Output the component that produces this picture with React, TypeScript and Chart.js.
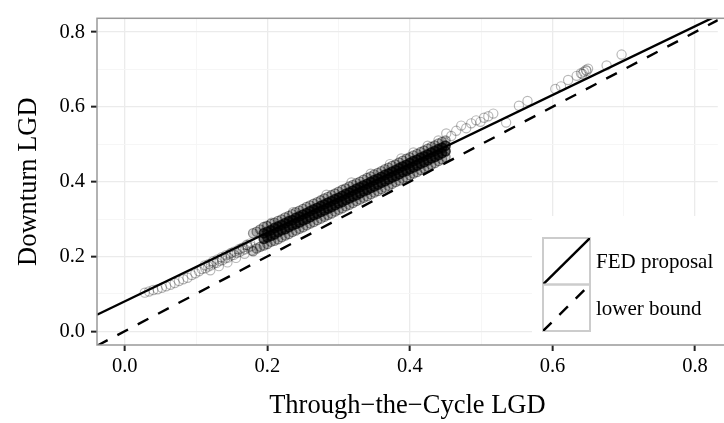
import React, { useEffect, useRef } from "react";
import { Chart, registerables } from "chart.js";

Chart.register(...registerables);

// ---- axis ranges and ticks ----
const X_MIN = -0.039;
const X_MAX = 0.832;
const Y_MIN = -0.037;
const Y_MAX = 0.837;
const xTickValues = [0, 0.1, 0.2, 0.3, 0.4, 0.5, 0.6, 0.7, 0.8];
const yTickValues = [0, 0.1, 0.2, 0.3, 0.4, 0.5, 0.6, 0.7, 0.8];

// ---- reference lines ----
const fedX = [-0.039, 0.832];
const fedY = [0.044, 0.845];
const lowerX = [-0.039, 0.832];
const lowerY = [-0.039, 0.832];

// ---- dense band of observations ----
const bandX = [
  0.18, 0.185, 0.19, 0.195, 0.2, 0.205, 0.21, 0.215, 0.22, 0.225, 0.23, 0.235, 0.24, 0.245,
  0.25, 0.255, 0.26, 0.265, 0.27, 0.275, 0.28, 0.285, 0.29, 0.295, 0.3, 0.305, 0.31, 0.315,
  0.32, 0.325, 0.33, 0.335, 0.34, 0.345, 0.35, 0.355, 0.36, 0.365, 0.37, 0.375, 0.38, 0.385,
  0.39, 0.395, 0.4, 0.405, 0.41, 0.415, 0.42, 0.425, 0.43, 0.435, 0.44, 0.445, 0.45,
];
const bandLow = [
  0.214, 0.221, 0.226, 0.229, 0.233, 0.239, 0.242, 0.246, 0.251, 0.256, 0.26, 0.265, 0.269, 0.274,
  0.278, 0.283, 0.288, 0.292, 0.297, 0.301, 0.306, 0.311, 0.315, 0.32, 0.325, 0.329, 0.334, 0.338,
  0.343, 0.348, 0.352, 0.357, 0.361, 0.366, 0.371, 0.375, 0.38, 0.384, 0.389, 0.394, 0.399, 0.403,
  0.408, 0.412, 0.417, 0.422, 0.426, 0.431, 0.436, 0.44, 0.445, 0.45, 0.455, 0.46, 0.466,
];
const bandMidLow = [
  0.232, 0.238, 0.241, 0.247, 0.251, 0.255, 0.259, 0.265, 0.27, 0.273, 0.278, 0.283, 0.287, 0.291,
  0.296, 0.3, 0.305, 0.31, 0.314, 0.319, 0.323, 0.328, 0.332, 0.337, 0.342, 0.346, 0.351, 0.355,
  0.36, 0.364, 0.369, 0.374, 0.378, 0.383, 0.387, 0.392, 0.397, 0.401, 0.406, 0.411, 0.415, 0.42,
  0.425, 0.429, 0.434, 0.438, 0.443, 0.448, 0.452, 0.457, 0.462, 0.466, 0.471, 0.476, 0.481,
];
const bandMidHigh = [
  0.248, 0.253, 0.259, 0.262, 0.266, 0.27, 0.276, 0.28, 0.284, 0.289, 0.294, 0.297, 0.303, 0.307,
  0.312, 0.316, 0.321, 0.326, 0.33, 0.335, 0.339, 0.344, 0.348, 0.353, 0.357, 0.362, 0.367, 0.371,
  0.376, 0.381, 0.385, 0.39, 0.394, 0.399, 0.404, 0.408, 0.413, 0.418, 0.422, 0.427, 0.431, 0.436,
  0.441, 0.445, 0.45, 0.455, 0.459, 0.464, 0.468, 0.473, 0.478, 0.482, 0.487, 0.491, 0.496,
];
const bandHigh = [
  0.262, 0.266, 0.272, 0.279, 0.281, 0.287, 0.29, 0.295, 0.299, 0.304, 0.308, 0.313, 0.318, 0.322,
  0.327, 0.332, 0.336, 0.341, 0.345, 0.35, 0.355, 0.359, 0.364, 0.368, 0.373, 0.378, 0.382, 0.387,
  0.391, 0.396, 0.4, 0.405, 0.41, 0.414, 0.419, 0.423, 0.428, 0.433, 0.437, 0.442, 0.446, 0.451,
  0.456, 0.461, 0.465, 0.47, 0.474, 0.479, 0.483, 0.488, 0.493, 0.497, 0.502, 0.506, 0.51,
];
// the darkest core of the band begins a little after the band itself
const CORE_START = 3;

// ---- sparse observations (tails and outliers) ----
const sparseX = [
  0.028, 0.034, 0.04, 0.046, 0.052, 0.058, 0.064, 0.07, 0.076, 0.082, 0.088, 0.094, 0.099, 0.104,
  0.108, 0.113, 0.117, 0.121, 0.125, 0.129, 0.133, 0.137, 0.141, 0.145, 0.149, 0.153, 0.157, 0.161,
  0.165, 0.169, 0.173, 0.177,
  0.112, 0.118, 0.124, 0.13, 0.136, 0.142, 0.148, 0.154, 0.16, 0.166, 0.172, 0.176,
  0.12, 0.132, 0.144, 0.156, 0.168, 0.178, 0.15, 0.163, 0.171,
  0.199, 0.206, 0.236, 0.283, 0.318, 0.345, 0.372, 0.388, 0.405, 0.425, 0.44,
  0.451, 0.458, 0.465, 0.472, 0.479, 0.486, 0.493, 0.499, 0.504, 0.51, 0.517, 0.535, 0.553, 0.565,
  0.604, 0.612, 0.622, 0.634, 0.64, 0.644, 0.647, 0.65, 0.642, 0.648, 0.676, 0.697,
];
const sparseY = [
  0.103, 0.106, 0.11, 0.112, 0.116, 0.12, 0.124, 0.129, 0.134, 0.139, 0.143, 0.15, 0.155, 0.16,
  0.166, 0.168, 0.173, 0.176, 0.181, 0.183, 0.188, 0.19, 0.195, 0.197, 0.202, 0.204, 0.209, 0.212,
  0.216, 0.219, 0.224, 0.227,
  0.176, 0.18, 0.187, 0.192, 0.198, 0.203, 0.208, 0.213, 0.219, 0.224, 0.23, 0.235,
  0.163, 0.174, 0.184, 0.196, 0.207, 0.216, 0.21, 0.221, 0.231,
  0.282, 0.29, 0.318, 0.365, 0.398, 0.421, 0.447, 0.462, 0.478, 0.496, 0.51,
  0.529, 0.522, 0.536, 0.55, 0.543, 0.556, 0.564, 0.56, 0.571, 0.575, 0.582, 0.558, 0.603, 0.616,
  0.648, 0.655, 0.672, 0.683, 0.69, 0.694, 0.699, 0.702, 0.688, 0.696, 0.711, 0.74,
];

const FONT = "'Liberation Serif', 'Times New Roman', serif";

const isMajor = (v: number) => Math.round(v * 10) % 2 === 0;

const pairs = (xs: number[], ys: number[], from = 0) =>
  xs.map((x, i) => ({ x, y: ys[i] })).slice(from);

const insideLegend = {
  id: "insideLegend",
  afterDatasetsDraw(chart: any) {
    const { ctx, chartArea } = chart;
    ctx.save();
    ctx.fillStyle = "#ffffff";
    ctx.fillRect(532, 216, chartArea.right - 532 + 2, chartArea.bottom - 216);
    const lineSets = chart.data.datasets.filter((d: any) => d.isRefLine);
    const bx = 543;
    const bw = 47;
    const bh = 46.5;
    lineSets.forEach((ds: any, i: number) => {
      const by = 238 + i * bh;
      ctx.strokeStyle = "#cccccc";
      ctx.lineWidth = 2;
      ctx.setLineDash([]);
      ctx.strokeRect(bx, by, bw, bh);
      ctx.save();
      ctx.beginPath();
      ctx.rect(bx, by, bw, bh);
      ctx.clip();
      ctx.strokeStyle = ds.borderColor;
      ctx.lineWidth = ds.borderWidth;
      ctx.setLineDash(ds.borderDash || []);
      ctx.beginPath();
      ctx.moveTo(bx, by + bh);
      ctx.lineTo(bx + bw, by);
      ctx.stroke();
      ctx.restore();
      ctx.fillStyle = "#000000";
      ctx.font = `21px ${FONT}`;
      ctx.textBaseline = "middle";
      ctx.textAlign = "left";
      ctx.fillText(ds.label, 596, by + bh / 2 + 1.5);
    });
    ctx.restore();
  },
};

const panelBorder = {
  id: "panelBorder",
  afterDraw(chart: any) {
    const { ctx, chartArea } = chart;
    ctx.save();
    ctx.strokeStyle = "#999999";
    ctx.lineWidth = 1.5;
    ctx.setLineDash([]);
    ctx.strokeRect(chartArea.left, chartArea.top, chartArea.right - chartArea.left + 10, chartArea.bottom - chartArea.top);
    ctx.restore();
  },
};

function makeScale(axis: "x" | "y", min: number, max: number, values: number[], title: string) {
  return {
    type: "linear" as const,
    min,
    max,
    afterBuildTicks: (scale: any) => {
      scale.ticks = values.map((v) => ({ value: v }));
    },
    afterFit: (scale: any) => {
      if (axis === "y") scale.width = 97;
      else scale.height = 78;
    },
    ticks: {
      autoSkip: false,
      maxRotation: 0,
      minRotation: 0,
      padding: axis === "y" ? 6 : 3,
      color: "#000000",
      font: { family: FONT, size: 20.5 },
      callback: (v: any) => (isMajor(Number(v)) ? Number(v).toFixed(1) : ""),
    },
    grid: {
      color: (c: any) => (c.tick && isMajor(c.tick.value) ? "#ebebeb" : "#f5f5f5"),
      lineWidth: (c: any) => (c.tick && isMajor(c.tick.value) ? 1.3 : 0.9),
      tickColor: (c: any) => (c.tick && isMajor(c.tick.value) ? "#222222" : "rgba(0,0,0,0)"),
      tickLength: 6,
      tickWidth: 2,
    },
    border: { display: false },
    title: {
      display: true,
      text: title,
      color: "#000000",
      font: { family: FONT, size: 26.5 },
      padding: axis === "y" ? { top: 13, bottom: 0 } : { top: 0, bottom: 1 },
    },
  };
}

export default function App() {
  const ref = useRef<HTMLCanvasElement>(null);
  useEffect(() => {
    if (!ref.current) return;
    const pointBase = {
      showLine: false,
      pointStyle: "circle",
      pointRadius: 4.6,
      pointHoverRadius: 4.6,
      order: 2,
      clip: 0,
    };
    const chart = new Chart(ref.current, {
      type: "scatter",
      data: {
        datasets: [
          {
            label: "FED proposal",
            isRefLine: true,
            data: pairs(fedX, fedY),
            showLine: true,
            borderColor: "#000000",
            borderWidth: 2.4,
            pointRadius: 0,
            order: 0,
            clip: 0,
          } as any,
          {
            label: "lower bound",
            isRefLine: true,
            data: pairs(lowerX, lowerY),
            showLine: true,
            borderColor: "#000000",
            borderWidth: 2.4,
            borderDash: [12, 11],
            pointRadius: 0,
            order: 0,
            clip: 0,
          } as any,
          {
            ...pointBase,
            label: "obs core",
            data: [...pairs(bandX, bandMidLow, CORE_START), ...pairs(bandX, bandMidHigh, CORE_START)],
            pointBackgroundColor: "rgba(0,0,0,0.55)",
            pointBorderColor: "rgba(0,0,0,0.7)",
            pointBorderWidth: 1.6,
          } as any,
          {
            ...pointBase,
            label: "obs edge",
            data: [...pairs(bandX, bandLow), ...pairs(bandX, bandHigh)],
            pointBackgroundColor: "rgba(0,0,0,0.18)",
            pointBorderColor: "rgba(0,0,0,0.4)",
            pointBorderWidth: 1.3,
          } as any,
          {
            ...pointBase,
            label: "obs sparse",
            data: pairs(sparseX, sparseY),
            pointBackgroundColor: "rgba(0,0,0,0)",
            pointBorderColor: "rgba(0,0,0,0.28)",
            pointBorderWidth: 1.2,
          } as any,
        ],
      },
      options: {
        animation: false,
        responsive: false,
        events: [],
        layout: { padding: { top: 11, right: 0, left: 0, bottom: 0 } },
        plugins: { legend: { display: false }, tooltip: { enabled: false } },
        scales: {
          x: makeScale("x", X_MIN, X_MAX, xTickValues, "Through\u2212the\u2212Cycle LGD"),
          y: makeScale("y", Y_MIN, Y_MAX, yTickValues, "Downturn LGD"),
        },
      } as any,
      plugins: [insideLegend, panelBorder],
    });
    return () => chart.destroy();
  }, []);
  return (
    <div style={{ position: "absolute", left: 0, top: 0, width: 724, height: 423, background: "#ffffff" }}>
      <canvas ref={ref} width={724} height={423} style={{ display: "block" }} />
    </div>
  );
}
